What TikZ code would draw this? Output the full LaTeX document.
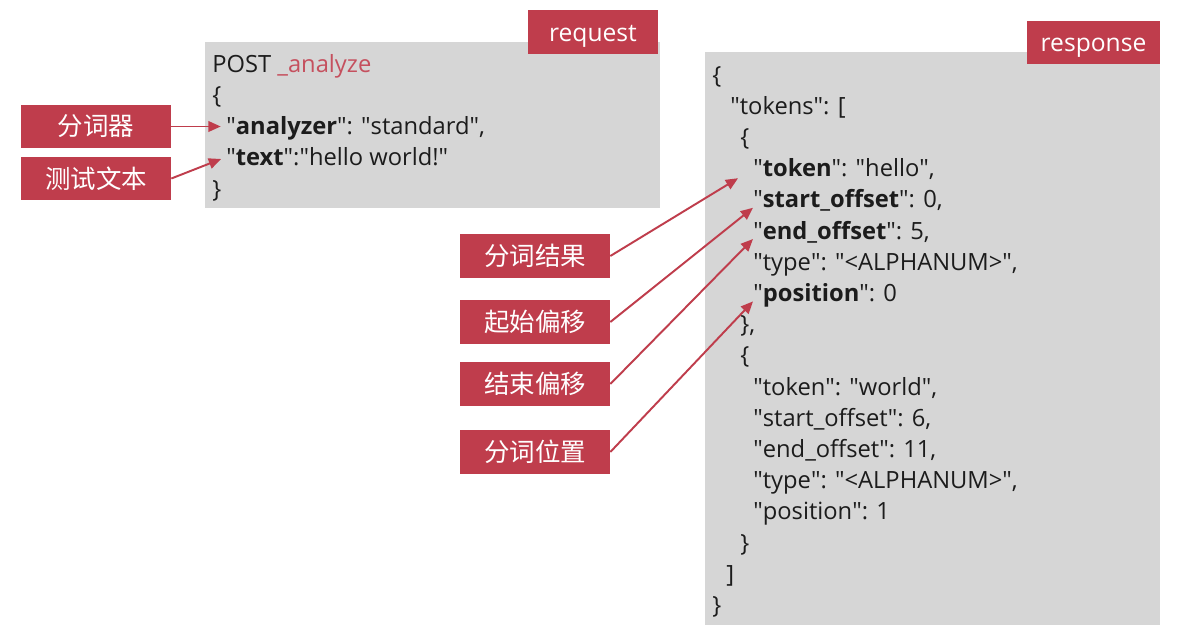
\documentclass[tikz,border=0pt]{standalone}
\usepackage{fontspec}
\setmainfont{Open Sans}
\newfontfamily\cjk{Noto Sans CJK SC}
\usetikzlibrary{arrows.meta}

\definecolor{tagred}{RGB}{191,61,76}
\definecolor{codegray}{RGB}{214,214,214}
\definecolor{codetext}{RGB}{28,28,28}
\newcommand{\qt}{\textquotedbl}

\begin{document}
\begin{tikzpicture}[x=0.02cm, y=-0.02cm,
    code/.style={anchor=base west, inner sep=0pt, text=codetext, font=\fontsize{13.5}{16}\selectfont},
    tag/.style={fill=tagred, text=white, inner sep=0pt, minimum height=0.87cm, text height=0.36cm, text depth=0pt, font=\fontsize{14}{16}\selectfont},
    lbl/.style={fill=tagred, text=white, inner sep=0pt, minimum width=3cm, minimum height=0.87cm, font=\cjk\fontsize{14.5}{16}\selectfont},
    arr/.style={draw=tagred, line width=1.1pt, -{Triangle[length=7pt,width=6pt]}}]
    \useasboundingbox (0,0) rectangle (1194,640);
    \fill[white] (0,0) rectangle (1194,640);

    % request
    \fill[codegray] (205,42) rectangle (660,208);
    \node[tag, minimum width=2.6cm] (reqtag) at (593,32) {request};
    \foreach \x/\t [count=\i] in {212/{POST \textcolor{tagred!90!white}{\_analyze}},
        212/{\{},
        226/{\qt\textbf{analyzer}\qt: \qt standard\qt,},
        226/{\qt\textbf{text}\qt:\qt hello world!\qt},
        212/{\}}}
      \node[code] (q\i) at (\x,{72+31.3*(\i-1)}) {\t};

    % response
    \fill[codegray] (705,52) rectangle (1160,625);
    \node[tag, minimum width=2.66cm] (resptag) at (1093.5,42.5) {response};
    \foreach \x/\t [count=\i] in {712/{\{},
        730/{\qt tokens\qt: [},
        740/{\{},
        753/{\qt\textbf{token}\qt: \qt hello\qt,},
        753/{\qt\textbf{start\_offset}\qt: 0,},
        753/{\qt\textbf{end\_offset}\qt: 5,},
        753/{\qt type\qt: \qt<ALPHANUM>\qt,},
        753/{\qt\textbf{position}\qt: 0},
        740/{\},},
        740/{\{},
        753/{\qt token\qt: \qt world\qt,},
        753/{\qt start\_offset\qt: 6,},
        753/{\qt end\_offset\qt: 11,},
        753/{\qt type\qt: \qt<ALPHANUM>\qt,},
        753/{\qt position\qt: 1},
        740/{\}},
        726/{]},
        712/{\}}}
      \node[code] (r\i) at (\x,{83+31.2*(\i-1)}) {\t};

    % labels
    \node[lbl] (analyzer) at (96,126.5) {分词器};
    \node[lbl] (sample) at (96,178.5) {测试文本};
    \node[lbl] (result) at (535,256) {分词结果};
    \node[lbl] (startoff) at (535,322) {起始偏移};
    \node[lbl] (endoff) at (535,384) {结束偏移};
    \node[lbl] (pos) at (535,452) {分词位置};

    % arrows
    \draw[arr, shorten >=3pt] (analyzer.east) -- (analyzer.east -| q3.west);
    \draw[arr, shorten >=3pt] (sample.east) -- (q4.west);
    \draw[arr, shorten >=0.35cm] (result.east) -- (r4.west);
    \draw[arr] (startoff.east) -- (r5.base west);
    \draw[arr] (endoff.east) -- (r6.base west);
    \draw[arr] (pos.east) -- (r8.base west);
\end{tikzpicture}
\end{document}
